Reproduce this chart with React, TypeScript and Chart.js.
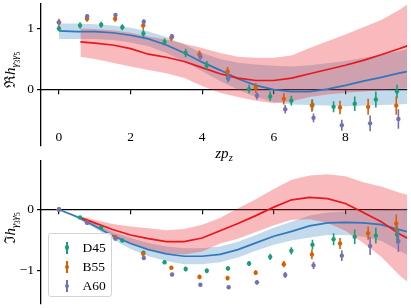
import React, { useEffect, useRef } from 'react';
import { Chart, registerables } from 'chart.js';
Chart.register(...registerables);

const FONT = "'Liberation Serif', 'Times New Roman', serif";
const GREEN = '#1b9e77';
const ORANGE = '#d95f02';
const PURPLE = '#7570b3';
const BLUE = '#2f78bd';
const RED = '#e8171c';
const BLUE_FILL = 'rgba(31,119,180,0.27)';
const RED_FILL = 'rgba(234,40,46,0.32)';

// ---- lattice data ----
const xD45 = [0, 0.59, 1.18, 1.77, 2.36, 2.95, 3.54, 4.13, 4.72, 5.31, 5.9, 6.49, 7.08, 7.67, 8.26, 8.85, 9.44];
const reD45 = [1.0, 1.05, 1.06, 1.02, 0.92, 0.78, 0.6, 0.4, 0.19, 0.01, -0.11, -0.18, -0.25, -0.28, -0.23, -0.16, -0.03];
const reD45Err = [0.04, 0.05, 0.05, 0.05, 0.06, 0.06, 0.07, 0.07, 0.07, 0.07, 0.08, 0.08, 0.09, 0.09, 0.12, 0.13, 0.11];
const imD45 = [0, -0.13, -0.3, -0.51, -0.71, -0.87, -0.98, -1.01, -0.97, -0.89, -0.78, -0.68, -0.58, -0.49, -0.45, -0.43, -0.41];
const imD45Err = [0.005, 0.02, 0.02, 0.02, 0.03, 0.03, 0.04, 0.04, 0.04, 0.04, 0.05, 0.06, 0.08, 0.1, 0.12, 0.13, 0.15];

const xB55 = [0, 0.785, 1.57, 2.355, 3.14, 3.925, 4.71, 5.495, 6.28, 7.065, 7.85, 8.635, 9.42];
const reB55 = [1.1, 1.16, 1.16, 1.05, 0.85, 0.58, 0.3, 0.03, -0.15, -0.26, -0.29, -0.28, -0.26];
const reB55Err = [0.06, 0.05, 0.05, 0.07, 0.06, 0.06, 0.07, 0.08, 0.09, 0.1, 0.11, 0.13, 0.15];
const imB55 = [0, -0.21, -0.45, -0.73, -0.96, -1.11, -1.13, -1.04, -0.9, -0.74, -0.56, -0.39, -0.23];
const imB55Err = [0.005, 0.02, 0.02, 0.03, 0.03, 0.04, 0.04, 0.04, 0.05, 0.08, 0.09, 0.11, 0.15];

const xA60 = [0, 0.79, 1.58, 2.37, 3.16, 3.95, 4.74, 5.53, 6.32, 7.11, 7.9, 8.69, 9.48];
const reA60 = [1.1, 1.2, 1.22, 1.11, 0.87, 0.54, 0.2, -0.1, -0.32, -0.46, -0.58, -0.55, -0.48];
const reA60Err = [0.04, 0.03, 0.03, 0.04, 0.04, 0.05, 0.06, 0.06, 0.07, 0.07, 0.09, 0.13, 0.16];
const imA60 = [0, -0.22, -0.48, -0.8, -1.07, -1.24, -1.28, -1.2, -1.08, -0.92, -0.76, -0.6, -0.52];
const imA60Err = [0.005, 0.02, 0.02, 0.02, 0.03, 0.03, 0.03, 0.04, 0.05, 0.06, 0.09, 0.15, 0.18];

// ---- blue model band ----
const zBlue = [0, 0.5, 1.0, 1.5, 2.0, 2.5, 3.0, 3.5, 4.0, 4.5, 5.0, 5.5, 6.0, 6.5, 7.0, 7.5, 8.0, 8.5, 9.0, 9.5, 9.75];
const reBlue = [0.96, 0.95, 0.95, 0.93, 0.89, 0.83, 0.73, 0.6, 0.45, 0.32, 0.18, 0.07, 0.0, -0.03, -0.03, 0.01, 0.07, 0.14, 0.2, 0.27, 0.3];
const reBlueHi = [1.08, 1.08, 1.07, 1.05, 1.01, 0.95, 0.86, 0.74, 0.6, 0.5, 0.44, 0.41, 0.39, 0.38, 0.4, 0.43, 0.47, 0.52, 0.57, 0.63, 0.67];
const reBlueLo = [0.83, 0.83, 0.83, 0.81, 0.77, 0.71, 0.6, 0.46, 0.3, 0.14, 0.0, -0.12, -0.2, -0.24, -0.25, -0.26, -0.27, -0.26, -0.25, -0.24, -0.23];
const imBlue = [0, -0.12, -0.27, -0.43, -0.56, -0.66, -0.73, -0.77, -0.77, -0.74, -0.66, -0.55, -0.44, -0.36, -0.27, -0.22, -0.21, -0.22, -0.25, -0.33, -0.37];
const imBlueHi = [0, -0.1, -0.23, -0.37, -0.47, -0.55, -0.61, -0.64, -0.64, -0.61, -0.53, -0.42, -0.3, -0.2, -0.1, -0.05, -0.03, -0.02, -0.01, 0.01, 0.02];
const imBlueLo = [0, -0.14, -0.31, -0.49, -0.65, -0.77, -0.85, -0.9, -0.9, -0.87, -0.79, -0.68, -0.58, -0.51, -0.46, -0.42, -0.42, -0.45, -0.52, -0.68, -0.75];

// ---- red model band ----
const zRed = [0.6, 1.0, 1.5, 2.0, 2.5, 3.0, 3.5, 4.0, 4.5, 5.0, 5.5, 6.0, 6.5, 7.0, 7.5, 8.0, 8.5, 9.0, 9.5, 9.75];
const reRed = [0.78, 0.76, 0.73, 0.67, 0.58, 0.53, 0.46, 0.36, 0.26, 0.19, 0.15, 0.15, 0.19, 0.26, 0.33, 0.4, 0.48, 0.57, 0.67, 0.72];
const reRedHi = [1.0, 0.99, 0.97, 0.93, 0.87, 0.82, 0.75, 0.68, 0.6, 0.54, 0.52, 0.52, 0.56, 0.68, 0.79, 0.9, 1.02, 1.14, 1.3, 1.4];
const reRedLo = [0.54, 0.5, 0.44, 0.38, 0.32, 0.27, 0.19, 0.06, -0.05, -0.12, -0.18, -0.22, -0.19, -0.12, -0.08, -0.05, -0.03, -0.01, 0.01, 0.02];
const imRed = [-0.13, -0.22, -0.33, -0.42, -0.48, -0.53, -0.53, -0.47, -0.35, -0.23, -0.1, 0.04, 0.16, 0.2, 0.18, 0.1, -0.05, -0.2, -0.4, -0.48];
const imRedHi = [-0.11, -0.17, -0.24, -0.28, -0.31, -0.34, -0.32, -0.25, -0.14, 0.02, 0.17, 0.34, 0.49, 0.56, 0.58, 0.55, 0.45, 0.38, 0.28, 0.24];
const imRedLo = [-0.15, -0.27, -0.42, -0.56, -0.65, -0.72, -0.74, -0.69, -0.56, -0.48, -0.37, -0.26, -0.17, -0.16, -0.22, -0.35, -0.55, -0.78, -1.08, -1.2];

// ---- ticks ----
const xTicks = [0, 2, 4, 6, 8];
const reYTicks = [0, 1];
const imYTicks = [-1, 0];
const legendLabels = ['D45', 'B55', 'A60'];
const legendColors = [GREEN, ORANGE, PURPLE];

const pts = (xs: number[], ys: number[]) => xs.map((x, i) => ({ x, y: ys[i] }));
const fmt = (v: number) => (v < 0 ? '\u2212' + Math.abs(v) : String(v));

const errorBarPlugin = {
  id: 'errbars',
  beforeDatasetDraw(chart: any, args: any) {
    const ds = chart.data.datasets[args.index];
    if (!ds.errors) return;
    const { ctx, chartArea, scales } = chart;
    const xs = scales.x, ys = scales.y;
    ctx.save();
    ctx.beginPath();
    ctx.rect(chartArea.left, chartArea.top, chartArea.right - chartArea.left, chartArea.bottom - chartArea.top);
    ctx.clip();
    ctx.strokeStyle = ds.borderColor;
    ctx.lineWidth = 1.6;
    ctx.beginPath();
    ds.data.forEach((p: any, i: number) => {
      const px = xs.getPixelForValue(p.x);
      ctx.moveTo(px, ys.getPixelForValue(p.y - ds.errors[i]));
      ctx.lineTo(px, ys.getPixelForValue(p.y + ds.errors[i]));
    });
    ctx.stroke();
    ctx.restore();
  },
};

function makeConfig(panel: 're' | 'im'): any {
  const isRe = panel === 're';
  const d45 = isRe ? reD45 : imD45, d45e = isRe ? reD45Err : imD45Err;
  const b55 = isRe ? reB55 : imB55, b55e = isRe ? reB55Err : imB55Err;
  const a60 = isRe ? reA60 : imA60, a60e = isRe ? reA60Err : imA60Err;
  const scatter = (label: string, xs: number[], ys: number[], errs: number[], color: string, order: number) => ({
    type: 'scatter', label, data: pts(xs, ys), errors: errs, backgroundColor: color, borderColor: color,
    pointRadius: 2.2, pointBorderWidth: 0, pointStyle: 'circle', order,
  });
  const line = (xs: number[], ys: number[], color: string, order: number) => ({
    type: 'line', data: pts(xs, ys), borderColor: color, borderWidth: 1.7, pointRadius: 0, fill: false, tension: 0, order,
  });
  const edge = (xs: number[], ys: number[], order: number, fill: any, bg: string) => ({
    type: 'line', data: pts(xs, ys), borderColor: 'transparent', borderWidth: 0, pointRadius: 0, fill, backgroundColor: bg, tension: 0, order,
  });
  return {
    type: 'line',
    data: {
      datasets: [
        scatter('A60', xA60, a60, a60e, PURPLE, 0),
        scatter('B55', xB55, b55, b55e, ORANGE, 1),
        scatter('D45', xD45, d45, d45e, GREEN, 2),
        line(zRed, isRe ? reRed : imRed, RED, 3),
        line(zBlue, isRe ? reBlue : imBlue, BLUE, 4),
        edge(zRed, isRe ? reRedHi : imRedHi, 5, false, 'transparent'),
        edge(zRed, isRe ? reRedLo : imRedLo, 5, '-1', RED_FILL),
        edge(zBlue, isRe ? reBlueHi : imBlueHi, 6, false, 'transparent'),
        edge(zBlue, isRe ? reBlueLo : imBlueLo, 6, '-1', BLUE_FILL),
      ],
    },
    options: {
      animation: false,
      responsive: false,
      events: [],
      layout: { padding: isRe ? { top: 3, bottom: 3, left: 0, right: 0 } : { top: 11, bottom: 0, left: 0, right: 0 } },
      plugins: { legend: { display: false }, tooltip: { enabled: false } },
      scales: {
        x: {
          type: 'linear', min: -0.5, max: 9.72, position: { y: 0 },
          afterBuildTicks: (s: any) => { s.ticks = xTicks.map((v) => ({ value: v })); },
          afterFit: (s: any) => { s.height = 0; s.paddingLeft = 0; s.paddingRight = 0; },
          grid: { drawOnChartArea: false, drawTicks: true, tickLength: 4, color: '#000', lineWidth: 1.2 },
          border: { display: true, color: '#000', width: 1.3 },
          ticks: { display: isRe, padding: 36, color: '#000', font: { family: FONT, size: 13.5 }, maxRotation: 0, autoSkip: false, callback: (v: number) => fmt(v) },
        },
        y: {
          type: 'linear', position: 'left',
          min: isRe ? -0.92 : -1.557, max: isRe ? 1.4 : 0.8,
          afterBuildTicks: (s: any) => { s.ticks = (isRe ? reYTicks : imYTicks).map((v) => ({ value: v })); },
          afterFit: (s: any) => { s.width = 41; s.paddingTop = 0; s.paddingBottom = 0; },
          grid: { drawOnChartArea: false, drawTicks: true, tickLength: 4, color: '#000', lineWidth: 1.2 },
          border: { display: true, color: '#000', width: 1.3 },
          ticks: { padding: 3, color: '#000', font: { family: FONT, size: 13.5 }, autoSkip: false, callback: (v: number) => fmt(v) },
        },
      },
    },
    plugins: [errorBarPlugin],
  };
}

function Panel({ panel, top, height }: { panel: 're' | 'im'; top: number; height: number }) {
  const ref = useRef<HTMLCanvasElement | null>(null);
  useEffect(() => {
    if (!ref.current) return;
    const chart = new Chart(ref.current, makeConfig(panel));
    return () => chart.destroy();
  }, [panel]);
  return (
    <canvas ref={ref} width={411} height={height}
      style={{ position: 'absolute', left: 0, top, width: 411, height }} />
  );
}

const subStyle: React.CSSProperties = { fontSize: '0.7em', verticalAlign: '-0.32em', lineHeight: 0 };
const subSubStyle: React.CSSProperties = { fontSize: '0.7em', verticalAlign: '-0.28em', lineHeight: 0 };

function YTitle({ prefix, cx, cy }: { prefix: string; cx: number; cy: number }) {
  return (
    <div style={{
      position: 'absolute', left: cx, top: cy, transform: 'translate(-50%, -50%) rotate(-90deg)',
      whiteSpace: 'nowrap', fontFamily: FONT, fontSize: 15, lineHeight: 1, color: '#000',
    }}>
      <span>{prefix}</span><i>h</i>
      <span style={subStyle}><i>γ</i><span style={subSubStyle}>3</span><i>γ</i><span style={subSubStyle}>5</span></span>
    </div>
  );
}

function LegendMarker({ color }: { color: string }) {
  return (
    <div style={{ position: 'absolute', left: -3, top: -6, width: 6, height: 12 }}>
      <div style={{ position: 'absolute', left: 2.2, top: 0, width: 1.6, height: 12, background: color }} />
      <div style={{ position: 'absolute', left: 0.8, top: 3.8, width: 4.4, height: 4.4, borderRadius: '50%', background: color }} />
    </div>
  );
}

export default function App() {
  const rowCenters = [13.7, 33, 52.3];
  return (
    <div style={{ position: 'absolute', left: 0, top: 0, width: 411, height: 308, overflow: 'hidden', background: '#fff' }}>
      <Panel panel="re" top={0} height={150} />
      <Panel panel="im" top={150} height={158} />
      <YTitle prefix="ℜ" cx={11} cy={70} />
      <YTitle prefix="ℑ" cx={11} cy={228} />
      <div style={{ position: 'absolute', left: 224, top: 153, transform: 'translate(-50%, -50%)', whiteSpace: 'nowrap', fontFamily: FONT, fontSize: 15, lineHeight: 1 }}>
        <i>zp</i><span style={subStyle}><i>z</i></span>
      </div>
      <div style={{
        position: 'absolute', left: 48, top: 233, width: 64, height: 64, boxSizing: 'border-box',
        border: '1px solid #d4d4d4', borderRadius: 3, background: 'rgba(255,255,255,0.8)',
      }}>
        {legendLabels.map((lab, i) => (
          <div key={lab} style={{ position: 'absolute', left: 0, top: rowCenters[i], width: '100%' }}>
            <div style={{ position: 'absolute', left: 18.2, top: 0 }}><LegendMarker color={legendColors[i]} /></div>
            <div style={{ position: 'absolute', left: 33.5, top: 0, transform: 'translateY(-50%)', fontFamily: FONT, fontSize: 13.5, lineHeight: 1, whiteSpace: 'nowrap' }}>{lab}</div>
          </div>
        ))}
      </div>
    </div>
  );
}
